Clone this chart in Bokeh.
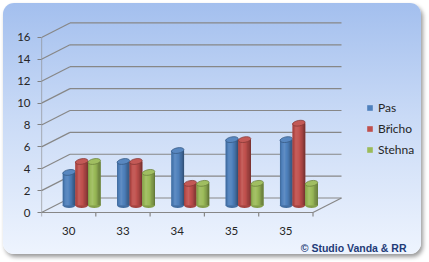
from bokeh.plotting import figure
from bokeh.models import FixedTicker, Legend, LegendItem, ColumnDataSource, Range1d
from bokeh.embed import file_html
from bokeh.resources import INLINE
from bokeh.core.properties import value

# ---------------- data ----------------
categories = ["30", "33", "34", "35", "35"]
series_names = ["Pas", "Břicho", "Stehna"]
pas = [3, 4, 5, 6, 6]
bricho = [4, 4, 2, 6, 7.5]
stehna = [4, 3, 2, 2, 2]
y_ticks = [0, 2, 4, 6, 8, 10, 12, 14, 16]
copyright_text = "© Studio Vanda & RR"

series_values = [pas, bricho, stehna]
colors = ["#4F81BD", "#C0504D", "#9BBB59"]

# ---------------- geometry (style) ----------------
W, H = 418, 251
BL, BR, BT, BB = 38, 3, 2, 2
PX_X = 54.3          # px per category
PX_Y = 10.94         # px per value unit
ZERO_FROM_TOP = 209  # value 0 relative to figure top
DX = 28.5 / PX_X     # depth offset in category units
DY = 14.5 / PX_Y     # depth offset in value units
BW = 12.6 / PX_X     # bar width
CLUSTER_OFF = 0.5 + 0.24
N_CAT = len(categories)
YMAX = max(y_ticks)

frame_w = W - BL - BR
frame_h = H - BT - BB
x_end = frame_w / PX_X
y_end = (ZERO_FROM_TOP - BT) / PX_Y
y_start = -(frame_h - (ZERO_FROM_TOP - BT)) / PX_Y

p = figure(width=W, height=H, output_backend="svg", toolbar_location=None,
           x_range=Range1d(0, x_end), y_range=Range1d(y_start, y_end),
           min_border_left=BL, min_border_right=BR, min_border_top=BT,
           min_border_bottom=BB)
p.border_fill_color = None
p.background_fill_color = None
p.outline_line_color = None
p.xgrid.visible = False
p.ygrid.visible = False
p.xaxis.visible = False
p.styles = {
    "margin-left": "3px",
    "margin-top": "3px",
    "background": "linear-gradient(to bottom, #a3bfee 0%, #c9daf6 45%, #eef4fe 100%)",
    "border-radius": "11px",
    "box-shadow": "2px 3px 4px rgba(0,0,0,0.4)",
}

yax = p.yaxis[0]
yax.ticker = FixedTicker(ticks=y_ticks, minor_ticks=[])
yax.axis_line_color = None
yax.major_tick_line_color = "#808080"
yax.major_tick_in = 0
yax.major_tick_out = 4
yax.major_label_standoff = 7
yax.major_label_text_font = "Lato"
yax.major_label_text_font_size = "11.5px"
yax.major_label_text_color = "#262626"

GRID = "#878787"
# back wall gridlines and left wall diagonals
p.segment(x0=[DX] * len(y_ticks), y0=[v + DY for v in y_ticks],
          x1=[N_CAT + DX] * len(y_ticks), y1=[v + DY for v in y_ticks],
          line_color=GRID, line_width=1.2)
p.segment(x0=[0] * len(y_ticks), y0=y_ticks,
          x1=[DX] * len(y_ticks), y1=[v + DY for v in y_ticks],
          line_color=GRID, line_width=1.2)
# front axis line, floor front edge, floor right edge
p.segment(x0=[0, 0, N_CAT], y0=[0, 0, 0], x1=[0, N_CAT, N_CAT + DX], y1=[YMAX, 0, DY],
          line_color=GRID, line_width=1.2)
# category boundary ticks
tick_len = 4 / PX_Y
p.segment(x0=list(range(N_CAT + 1)), y0=[0] * (N_CAT + 1),
          x1=list(range(N_CAT + 1)), y1=[-tick_len] * (N_CAT + 1),
          line_color=GRID, line_width=1.2)


def shade(hexc, f):
    r, g, b = int(hexc[1:3], 16), int(hexc[3:5], 16), int(hexc[5:7], 16)
    def one(c):
        if f >= 1:
            return int(round(c + (255 - c) * (f - 1)))
        return int(round(c * f))
    return "#%02x%02x%02x" % (one(r), one(g), one(b))


profile = [(0.0, 0.80), (0.3, 1.12), (0.6, 0.97), (1.0, 0.60)]


def prof(t):
    for (t0, f0), (t1, f1) in zip(profile[:-1], profile[1:]):
        if t0 <= t <= t1:
            return f0 + (f1 - f0) * (t - t0) / (t1 - t0)
    return profile[-1][1]


NS = 10
base_y = DY / 2
cap_h = 5.5 / PX_Y
legend_items = []
for s, (name, vals, col) in enumerate(zip(series_names, series_values, colors)):
    xc = [i + CLUSTER_OFF + (s - 1) * BW for i in range(N_CAT)]
    tops = [v + base_y for v in vals]
    # bottom cap
    p.ellipse(x=xc, y=[base_y] * N_CAT, width=BW, height=cap_h,
              fill_color=shade(col, 0.85), line_color=None)
    # body (legend renderer)
    body = p.quad(left=[x - BW / 2 for x in xc], right=[x + BW / 2 for x in xc],
                  bottom=[base_y] * N_CAT, top=tops, fill_color=col, line_color=None)
    legend_items.append(LegendItem(label=name, renderers=[body]))
    # shading strips
    L, R, B, T, C = [], [], [], [], []
    for x, t in zip(xc, tops):
        for k in range(NS):
            l = x - BW / 2 + BW * k / NS
            r = x - BW / 2 + BW * (k + 1) / NS
            L.append(l); R.append(r + 0.002); B.append(base_y); T.append(t)
            C.append(shade(col, prof((k + 0.5) / NS)))
    p.quad(source=ColumnDataSource(dict(left=L, right=R, bottom=B, top=T, color=C)),
           left="left", right="right", bottom="bottom", top="top",
           fill_color="color", line_color=None)
    # top cap
    p.ellipse(x=xc, y=tops, width=BW, height=cap_h, angle=0.18,
              fill_color=shade(col, 1.05), line_color=shade(col, 0.7), line_width=0.8)

# category labels
label_y = -18 / PX_Y
p.text(x=[i + 0.5 for i in range(N_CAT)], y=[label_y] * N_CAT, text=categories,
       text_align="center", text_baseline="middle", text_font=value("Lato"),
       text_font_size="11.5px", text_color="#262626")

# copyright
p.text(x=[(406 - 41) / PX_X], y=[-35 / PX_Y], text=[copyright_text],
       text_align="right", text_baseline="middle", text_font=value("Liberation Sans"),
       text_font_style="bold", text_font_size="10.5px", text_color="#1f3b78")

legend = Legend(items=legend_items, location=(325, 95), glyph_width=7, glyph_height=7,
                label_text_font="Lato", label_text_font_size="12px",
                label_text_color="#262626", spacing=6, padding=0, margin=0,
                label_standoff=5, border_line_color=None, background_fill_alpha=0,
                label_height=7)
p.add_layout(legend)

open("out.html", "w").write(file_html(p, INLINE))
